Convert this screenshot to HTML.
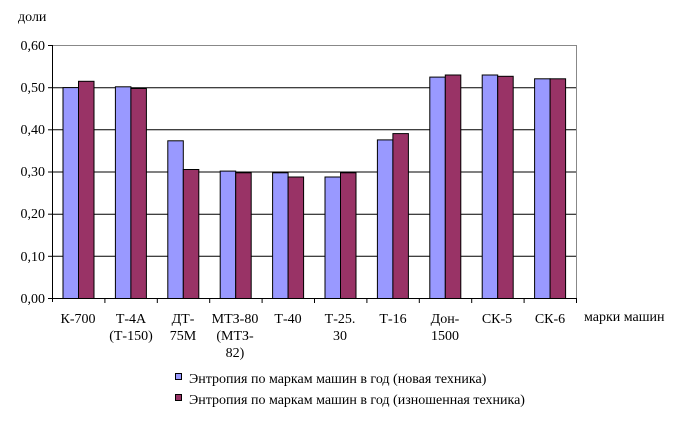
<!DOCTYPE html>
<html><head><meta charset="utf-8"><style>body{margin:0;background:#fff}svg{display:block}text{font-family:"Liberation Serif",serif;font-size:14px;fill:#000}</style></head><body>
<svg width="673" height="428" viewBox="0 0 673 428">
<g stroke="#000" stroke-width="1">
<line x1="52" y1="256.3" x2="576" y2="256.3"/>
<line x1="52" y1="214.2" x2="576" y2="214.2"/>
<line x1="52" y1="172.0" x2="576" y2="172.0"/>
<line x1="52" y1="129.8" x2="576" y2="129.8"/>
<line x1="52" y1="87.7" x2="576" y2="87.7"/>
</g>
<line x1="52" y1="45.5" x2="576" y2="45.5" stroke="#888"/>
<line x1="576.5" y1="45" x2="576.5" y2="298" stroke="#888"/>
<g stroke="#000" stroke-width="1">
<rect x="63" y="87.6" width="15.5" height="210.9" fill="#9999ff"/>
<rect x="78.5" y="81.3" width="15.5" height="217.2" fill="#993366"/>
<rect x="115.4" y="86.8" width="15.5" height="211.7" fill="#9999ff"/>
<rect x="130.9" y="88.5" width="15.5" height="210" fill="#993366"/>
<rect x="167.8" y="140.8" width="15.5" height="157.7" fill="#9999ff"/>
<rect x="183.3" y="169.5" width="15.5" height="129" fill="#993366"/>
<rect x="220.2" y="171.1" width="15.5" height="127.4" fill="#9999ff"/>
<rect x="235.7" y="172.8" width="15.5" height="125.7" fill="#993366"/>
<rect x="272.6" y="172.8" width="15.5" height="125.7" fill="#9999ff"/>
<rect x="288.1" y="177" width="15.5" height="121.5" fill="#993366"/>
<rect x="325" y="177" width="15.5" height="121.5" fill="#9999ff"/>
<rect x="340.5" y="172.8" width="15.5" height="125.7" fill="#993366"/>
<rect x="377.4" y="139.9" width="15.5" height="158.6" fill="#9999ff"/>
<rect x="392.9" y="133.6" width="15.5" height="164.9" fill="#993366"/>
<rect x="429.8" y="77.1" width="15.5" height="221.4" fill="#9999ff"/>
<rect x="445.3" y="75" width="15.5" height="223.5" fill="#993366"/>
<rect x="482.2" y="75" width="15.5" height="223.5" fill="#9999ff"/>
<rect x="497.7" y="76.3" width="15.5" height="222.2" fill="#993366"/>
<rect x="534.6" y="78.8" width="15.5" height="219.7" fill="#9999ff"/>
<rect x="550.1" y="78.8" width="15.5" height="219.7" fill="#993366"/>
</g>
<g stroke="#000">
<line x1="52.5" y1="45" x2="52.5" y2="302"/>
<line x1="48" y1="298.5" x2="577" y2="298.5"/>
<line x1="104.9" y1="298" x2="104.9" y2="303"/>
<line x1="157.3" y1="298" x2="157.3" y2="303"/>
<line x1="209.7" y1="298" x2="209.7" y2="303"/>
<line x1="262.1" y1="298" x2="262.1" y2="303"/>
<line x1="314.5" y1="298" x2="314.5" y2="303"/>
<line x1="366.9" y1="298" x2="366.9" y2="303"/>
<line x1="419.3" y1="298" x2="419.3" y2="303"/>
<line x1="471.7" y1="298" x2="471.7" y2="303"/>
<line x1="524.1" y1="298" x2="524.1" y2="303"/>
<line x1="576.5" y1="298" x2="576.5" y2="303"/>
<line x1="48" y1="45.5" x2="52" y2="45.5"/>
<line x1="48" y1="87.7" x2="52" y2="87.7"/>
<line x1="48" y1="129.8" x2="52" y2="129.8"/>
<line x1="48" y1="172" x2="52" y2="172"/>
<line x1="48" y1="214.2" x2="52" y2="214.2"/>
<line x1="48" y1="256.3" x2="52" y2="256.3"/>
</g>
<g text-anchor="end">
<text x="45" y="50">0,60</text><text x="45" y="92">0,50</text><text x="45" y="134">0,40</text><text x="45" y="176">0,30</text><text x="45" y="218">0,20</text><text x="45" y="261">0,10</text><text x="45" y="303">0,00</text>
</g>
<text x="18" y="21">доли</text>
<text x="584" y="321">марки машин</text>
<g text-anchor="middle">
<text x="78" y="323">К-700</text>
<text x="131" y="323">Т-4А</text><text x="131" y="340">(Т-150)</text>
<text x="183" y="323">ДТ-</text><text x="183" y="340">75М</text>
<text x="235" y="323">МТЗ-80</text><text x="235" y="340">(МТЗ-</text><text x="235" y="357">82)</text>
<text x="288" y="323">Т-40</text>
<text x="340" y="323">Т-25.</text><text x="340" y="340">30</text>
<text x="393" y="323">Т-16</text>
<text x="445" y="323">Дон-</text><text x="445" y="340">1500</text>
<text x="497" y="323">СК-5</text>
<text x="550" y="323">СК-6</text>
</g>
<rect x="175.5" y="373.5" width="6" height="6" fill="#9999ff" stroke="#000"/>
<rect x="175.5" y="394.5" width="6" height="6" fill="#993366" stroke="#000"/>
<text x="189" y="383">Энтропия по маркам машин в год (новая техника)</text>
<text x="189" y="404">Энтропия по маркам машин в год (изношенная техника)</text>
</svg></body></html>
